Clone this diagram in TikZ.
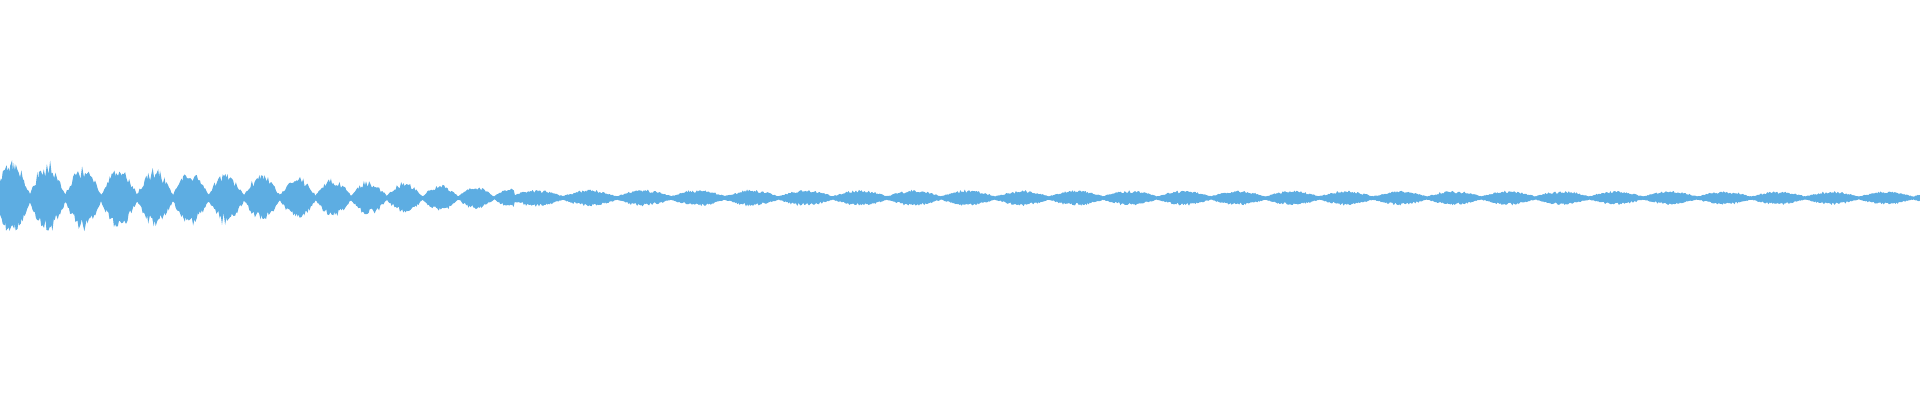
\documentclass[tikz,border=0pt]{standalone}
\usepackage{tikz}
\definecolor{wavecol}{HTML}{5DADE2}
\begin{document}
\begin{tikzpicture}
  [
    x=0.01cm, y=0.01cm,
    wave/.style={fill=wavecol, draw=wavecol, line width=0.3pt},
    declare function={
      envA(\t) = (36-\t/514*27)*(0.1+0.9*abs(cos((\t-12)*5.04)));
      envB(\t) = (8.5-\t/1920*2.5)*(0.2+0.8*abs(cos((\t-698)*3.333)));
      env(\t) = (0.8+0.2*rand)*(\t<514 ? envA(\t) : envB(\t));
    }
  ]
  \pgfmathsetseed{42}
  \useasboundingbox (0,0) rectangle (1920,400);
  % waveform envelope
  \fill[wave] plot[domain=0:1920, samples=1800] (\x,{202+env(\x)})
    -- plot[domain=1920:0, samples=1800] (\x,{202-env(\x)}) -- cycle;
\end{tikzpicture}
\end{document}
